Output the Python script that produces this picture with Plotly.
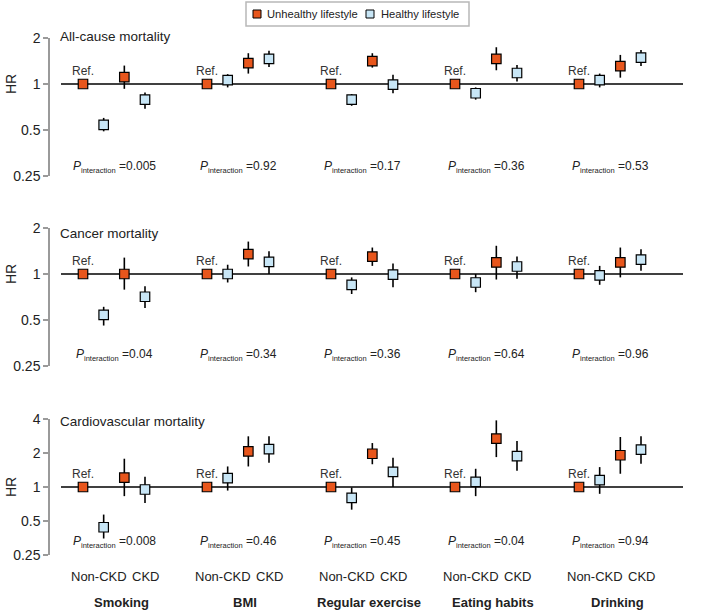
import math
import plotly.graph_objects as go

# ---------------- data ----------------
categories = ["Smoking", "BMI", "Regular exercise", "Eating habits", "Drinking"]
outcomes = ["All-cause mortality", "Cancer mortality", "Cardiovascular mortality"]
series_names = ["Unhealthy lifestyle", "Healthy lifestyle"]
ref_hr = 1.0

# per category: [healthy non-CKD, unhealthy CKD, healthy CKD]
allcause_hr = [[0.54, 1.11, 0.79], [1.06, 1.37, 1.46], [0.79, 1.41, 0.99], [0.87, 1.46, 1.18], [1.06, 1.31, 1.49]]
allcause_lo = [[0.49, 0.93, 0.69], [0.95, 1.17, 1.29], [0.72, 1.28, 0.87], [0.79, 1.23, 1.04], [0.95, 1.10, 1.31]]
allcause_hi = [[0.60, 1.32, 0.88], [1.16, 1.59, 1.65], [0.86, 1.59, 1.15], [0.95, 1.74, 1.33], [1.17, 1.55, 1.67]]

cancer_hr = [[0.54, 1.00, 0.71], [1.00, 1.35, 1.20], [0.85, 1.30, 0.99], [0.88, 1.19, 1.12], [0.98, 1.19, 1.24]]
cancer_lo = [[0.46, 0.79, 0.60], [0.88, 1.12, 1.00], [0.74, 1.13, 0.82], [0.76, 0.92, 0.93], [0.85, 0.95, 1.05]]
cancer_hi = [[0.61, 1.28, 0.83], [1.15, 1.63, 1.41], [0.95, 1.49, 1.17], [1.00, 1.53, 1.30], [1.13, 1.49, 1.45]]

cvd_hr = [[0.44, 1.21, 0.95], [1.20, 2.07, 2.16], [0.80, 1.97, 1.36], [1.11, 2.68, 1.88], [1.15, 1.91, 2.14]]
cvd_lo = [[0.35, 0.83, 0.72], [0.93, 1.52, 1.64], [0.63, 1.59, 1.00], [0.83, 1.84, 1.39], [0.87, 1.31, 1.61]]
cvd_hi = [[0.57, 1.78, 1.23], [1.52, 2.81, 2.81], [0.99, 2.45, 1.82], [1.45, 3.89, 2.55], [1.50, 2.77, 2.81]]

p_interaction_allcause = ["0.005", "0.92", "0.17", "0.36", "0.53"]
p_interaction_cancer = ["0.04", "0.34", "0.36", "0.64", "0.96"]
p_interaction_cvd = ["0.008", "0.46", "0.45", "0.04", "0.94"]

yticks_small = [0.25, 0.5, 1, 2]
yticks_cvd = [0.25, 0.5, 1, 2, 4]
ytick_text_small = ["0.25", "0.5", "1", "2"]
ytick_text_cvd = ["0.25", "0.5", "1", "2", "4"]

# ---------------- style / layout ----------------
W, H = 708, 610
FONT = "Liberation Sans, Arial, Helvetica, sans-serif"
ORANGE = "#E8561C"
BLUE = "#C8E6F6"
AXIS_GREY = "#9a9a9a"
TEXT = "#222222"

GROUP_STEP = 6
X_LEFT_PX, X_RIGHT_PX = 50, 683
UNIT_PX = 124 / 6.0
FIRST_PT_PX = 83
x_range = [(X_LEFT_PX - FIRST_PT_PX) / UNIT_PX, (X_RIGHT_PX - FIRST_PT_PX) / UNIT_PX]
line_x0 = (61 - FIRST_PT_PX) / UNIT_PX

panels = [
    dict(title=outcomes[0], hr=allcause_hr, lo=allcause_lo, hi=allcause_hi, p=p_interaction_allcause,
         ticks=yticks_small, ticktext=ytick_text_small, top_px=38, bot_px=176, p_px=167, title_px=36),
    dict(title=outcomes[1], hr=cancer_hr, lo=cancer_lo, hi=cancer_hi, p=p_interaction_cancer,
         ticks=yticks_small, ticktext=ytick_text_small, top_px=228, bot_px=366, p_px=355, title_px=233),
    dict(title=outcomes[2], hr=cvd_hr, lo=cvd_lo, hi=cvd_hi, p=p_interaction_cvd,
         ticks=yticks_cvd, ticktext=ytick_text_cvd, top_px=419, bot_px=555, p_px=542, title_px=421),
]


def py(px):
    return 1 - px / H


def px_x(px):
    return px / W


fig = go.Figure()
annotations = []
shapes = []
layout_axes = {}

for k, pnl in enumerate(panels):
    idx = "" if k == 0 else str(k + 1)
    xref, yref = "x" + idx, "y" + idx

    # reference line at HR = 1
    fig.add_trace(go.Scatter(x=[line_x0, x_range[1]], y=[ref_hr, ref_hr], mode="lines",
                             line=dict(color="black", width=1.5), showlegend=False,
                             hoverinfo="skip", xaxis=xref, yaxis=yref))

    ox, oy, op, om = [], [], [], []
    bx, by, bp, bm = [], [], [], []
    for g in range(len(categories)):
        hn, uc, hc = pnl["hr"][g]
        lhn, luc, lhc = pnl["lo"][g]
        uhn, uuc, uhc = pnl["hi"][g]
        base = GROUP_STEP * g
        ox += [base + 0, base + 2]
        oy += [ref_hr, uc]
        op += [0, uuc - uc]
        om += [0, uc - luc]
        bx += [base + 1, base + 3]
        by += [hn, hc]
        bp += [uhn - hn, uhc - hc]
        bm += [hn - lhn, hc - lhc]

    err_style = dict(type="data", symmetric=False, color="black", thickness=1.6, width=0)
    fig.add_trace(go.Scatter(x=ox, y=oy, mode="markers", name=series_names[0],
                             marker=dict(symbol="square", size=9.5, color=ORANGE,
                                         line=dict(color="black", width=1.2)),
                             error_y=dict(array=op, arrayminus=om, **err_style),
                             showlegend=False, cliponaxis=False,
                             xaxis=xref, yaxis=yref))
    fig.add_trace(go.Scatter(x=bx, y=by, mode="markers", name=series_names[1],
                             marker=dict(symbol="square", size=9.5, color=BLUE,
                                         line=dict(color="black", width=1.2)),
                             error_y=dict(array=bp, arrayminus=bm, **err_style),
                             showlegend=False, cliponaxis=False,
                             xaxis=xref, yaxis=yref))

    ymax = max(pnl["ticks"])
    layout_axes["xaxis" + idx] = dict(domain=[px_x(X_LEFT_PX), px_x(X_RIGHT_PX)], range=x_range,
                                      visible=False, anchor=yref, fixedrange=True)
    layout_axes["yaxis" + idx] = dict(
        domain=[py(pnl["bot_px"]), py(pnl["top_px"])], type="log",
        range=[math.log10(0.25), math.log10(ymax)], anchor=xref,
        tickvals=pnl["ticks"], ticktext=pnl["ticktext"],
        ticks="outside", ticklen=5, tickwidth=1.5, tickcolor=AXIS_GREY,
        showline=True, linecolor=AXIS_GREY, linewidth=1.5,
        showgrid=False, zeroline=False, tickfont=dict(size=14, color=TEXT, family=FONT))

    annotations.append(dict(text=pnl["title"], x=px_x(58), y=py(pnl["title_px"]), xref="paper",
                            yref="paper", xanchor="left", yanchor="middle", showarrow=False,
                            font=dict(size=13.5, color=TEXT, family=FONT)))
    annotations.append(dict(text="HR", x=px_x(11), y=0, xref="paper", yref=yref,
                            textangle=-90, showarrow=False, xanchor="center", yanchor="middle",
                            font=dict(size=14, color=TEXT, family=FONT)))
    for g in range(len(categories)):
        base = GROUP_STEP * g
        annotations.append(dict(text="Ref.", x=base, y=0, xref=xref, yref=yref, yshift=13,
                                xanchor="center", yanchor="middle",
                                showarrow=False, font=dict(size=12, color="#333333", family=FONT)))
        annotations.append(dict(
            text="<i>P</i><sub><span style='font-size:7.5px'>interaction</span></sub> =" + pnl["p"][g],
            x=base + 1.5, y=py(pnl["p_px"]), xref=xref, yref="paper", showarrow=False,
            xanchor="center", yanchor="middle", font=dict(size=12, color=TEXT, family=FONT)))

# bottom labels
for g, cat in enumerate(categories):
    base = GROUP_STEP * g
    annotations.append(dict(text="Non-CKD", x=base + 0.77, y=py(576), xref="x3", yref="paper",
                            xanchor="center", yanchor="middle",
                            showarrow=False, font=dict(size=13, color=TEXT, family=FONT)))
    annotations.append(dict(text="CKD", x=base + 3.04, y=py(576), xref="x3", yref="paper",
                            xanchor="center", yanchor="middle",
                            showarrow=False, font=dict(size=13, color=TEXT, family=FONT)))
    annotations.append(dict(text="<b>" + cat + "</b>", x=base + 1.85, y=py(602), xref="x3",
                            yref="paper", xanchor="center", yanchor="middle", showarrow=False,
                            font=dict(size=13, color=TEXT, family=FONT)))

# manual legend (box, swatches, labels)
shapes.append(dict(type="rect", xref="paper", yref="paper", x0=px_x(246), x1=px_x(469),
                   y0=py(26), y1=py(2), line=dict(color="#b8b8b8", width=1.5),
                   fillcolor="white", layer="above"))
for sw_x0, col, name, tx in [(253, ORANGE, series_names[0], 265), (366, BLUE, series_names[1], 379)]:
    shapes.append(dict(type="rect", xref="paper", yref="paper", x0=px_x(sw_x0), x1=px_x(sw_x0 + 8),
                       y0=py(18), y1=py(10), line=dict(color="black", width=1),
                       fillcolor=col, layer="above"))
    annotations.append(dict(text=name, x=px_x(tx), y=py(14), xref="paper", yref="paper",
                            xanchor="left", yanchor="middle", showarrow=False,
                            font=dict(size=11.2, color=TEXT, family=FONT)))

fig.update_layout(
    width=W, height=H, margin=dict(l=0, r=0, t=0, b=0, autoexpand=False),
    paper_bgcolor="white", plot_bgcolor="white",
    font=dict(family=FONT, color=TEXT),
    showlegend=False,
    annotations=annotations,
    shapes=shapes,
    **layout_axes,
)

fig.write_html("out.html", config={"displayModeBar": False},
               post_script="document.body.style.margin='0px';")
